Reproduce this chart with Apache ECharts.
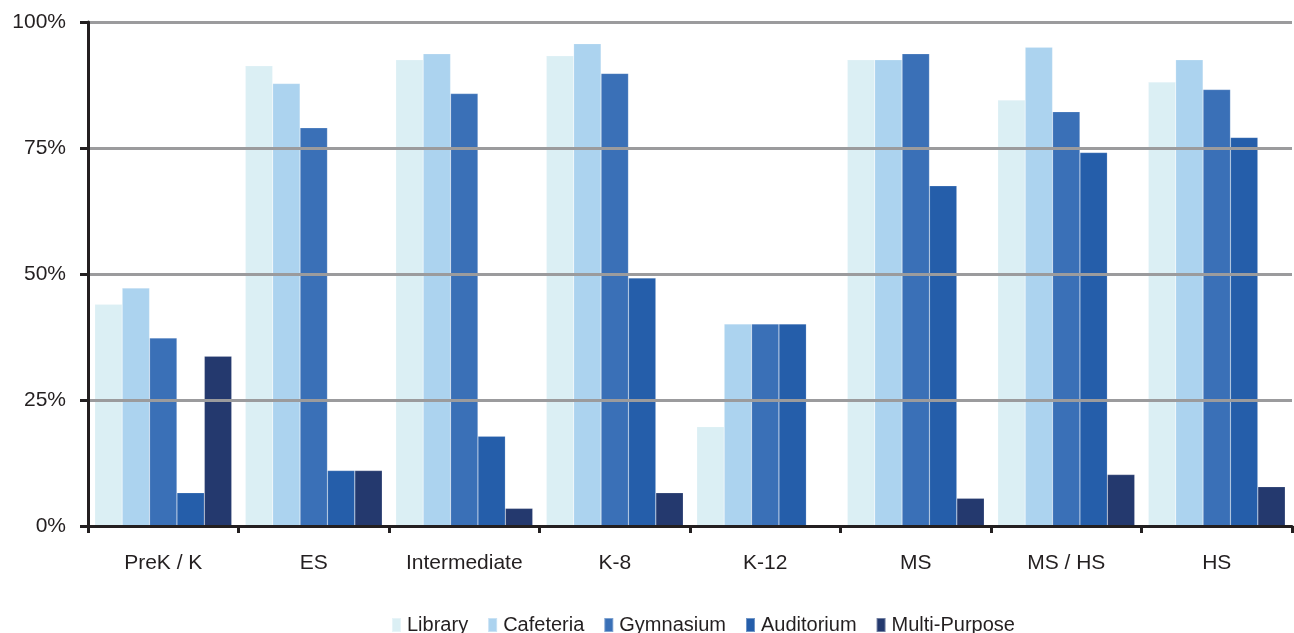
<!DOCTYPE html>
<html><head><meta charset="utf-8">
<script src="https://cdn.jsdelivr.net/npm/echarts@6/dist/echarts.min.js"></script>
<style>html,body{margin:0;padding:0;background:#fff}#c{width:1294px;height:633px}</style>
</head><body><div id="c"></div>
<script>
const categories = ['PreK / K','ES','Intermediate','K-8','K-12','MS','MS / HS','HS'];
const library      = [44.0, 91.3, 92.5, 93.3, 19.7, 92.5, 84.5, 88.1];
const cafeteria    = [47.2, 87.8, 93.7, 95.7, 40.1, 92.5, 95.0, 92.5];
const gymnasium    = [37.3, 79.0, 85.8, 89.8, 40.1, 93.7, 82.2, 86.6];
const auditorium   = [6.6, 11.0, 17.8, 49.2, 40.1, 67.5, 74.1, 77.1];
const multiPurpose = [33.7, 11.0, 3.5, 6.6, 0, 5.5, 10.2, 7.8];
const yTicks = [0, 25, 50, 75, 100];

const seriesDefs = [
  ['Library', library, '#dbeff4'],
  ['Cafeteria', cafeteria, '#acd3ef'],
  ['Gymnasium', gymnasium, '#3a70b7'],
  ['Auditorium', auditorium, '#255eaa'],
  ['Multi-Purpose', multiPurpose, '#24396e']
];
const font = 'Liberation Sans, Arial, sans-serif';
const chart = echarts.init(document.getElementById('c'));
chart.setOption({
  animation: false,
  backgroundColor: '#fff',
  grid: {left: 88, right: 2, top: 22, bottom: 107, containLabel: false},
  legend: {
    left: 386, top: 610, itemWidth: 9, itemHeight: 14, itemGap: 19,
    icon: 'rect',
    textStyle: {fontFamily: font, fontSize: 20, color: '#231f20', padding: [0,0,0,1]},
    data: seriesDefs.map(s => s[0])
  },
  xAxis: {
    type: 'category', data: categories, z: 10,
    axisLine: {lineStyle: {color: '#231f20', width: 3}},
    axisTick: {show: true, interval: 0, length: 7, lineStyle: {color: '#231f20', width: 3}},
    axisLabel: {interval: 0, fontFamily: font, fontSize: 21, color: '#231f20', margin: 27}
  },
  yAxis: {
    type: 'value', min: yTicks[0], max: yTicks[yTicks.length-1], interval: 25, z: 10,
    axisLine: {show: true, lineStyle: {color: '#231f20', width: 3}},
    axisTick: {show: true, length: 8, lineStyle: {color: '#231f20', width: 3}},
    axisLabel: {fontFamily: font, fontSize: 21, color: '#231f20', margin: 22, formatter: '{value}%'},
    splitLine: {lineStyle: {color: '#9b9b9d', width: 3}}
  },
  series: seriesDefs.map(s => ({
    name: s[0], type: 'bar', data: s[1], barGap: '0%', barCategoryGap: '9%',
    itemStyle: {color: s[2], borderColor: 'rgba(255,255,255,0.35)', borderWidth: 0.5}
  }))
});
</script></body></html>
